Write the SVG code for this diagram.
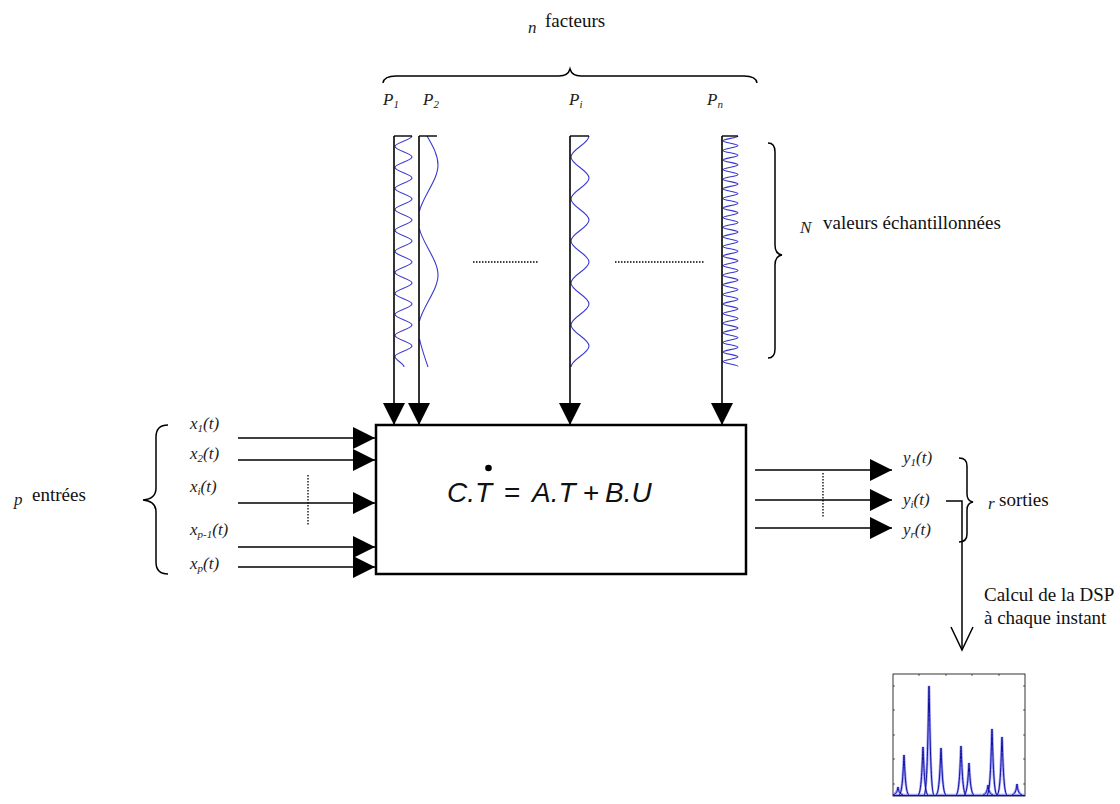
<svg xmlns="http://www.w3.org/2000/svg" width="1120" height="804" viewBox="0 0 1120 804">
<style>
.t{font-family:"Liberation Serif","Times New Roman",serif;font-size:19px;fill:#111}
.v{font-family:"Liberation Serif","Times New Roman",serif;font-style:italic;font-size:17px;fill:#222}
.eq{font-family:"Liberation Sans",Arial,sans-serif;font-style:italic;font-size:28px;fill:#111}
.eqo{font-family:"Liberation Sans",Arial,sans-serif;font-size:28px;fill:#111}
.ln{stroke:#000;stroke-width:1.6;fill:none}
.br{stroke:#000;stroke-width:1.5;fill:none}
.dot{stroke:#000;stroke-width:1.3;stroke-dasharray:1.5 1.5;fill:none}
.wave{stroke:#3a3ad0;stroke-width:1.1;fill:none}
.tick{stroke:#000;stroke-width:1.4;fill:none}
</style>
<defs>
<marker id="ah" viewBox="0 0 22 22" refX="22" refY="11" markerWidth="22" markerHeight="22" markerUnits="userSpaceOnUse" orient="auto">
<path d="M0,0 L22,11 L0,22 Z" fill="#000"/>
</marker>
</defs>
<rect width="1120" height="804" fill="#fff"/>

<g id="title-n-facteurs">
<text class="v" x="528" y="33" font-size="18">n</text>
<text class="t" x="545" y="27">facteurs</text>
<path class="br" d="M383,83 Q384,76 396,76 L559,76 Q568,76 570,69 Q572,76 581,76 L744,76 Q756,76 757,83"/>
</g>

<g id="factor-labels">
<text class="v" x="383" y="105" font-size="18">P<tspan font-size="11" dy="3">1</tspan></text>
<text class="v" x="423" y="105" font-size="18">P<tspan font-size="11" dy="3">2</tspan></text>
<text class="v" x="569" y="105" font-size="18">P<tspan font-size="11" dy="3">i</tspan></text>
<text class="v" x="707" y="105" font-size="18">P<tspan font-size="11" dy="3">n</tspan></text>
</g>

<g id="factor-P1">
<path class="wave" d="M412,136 C412,139.8 395,142.7 395,146.5 S412,153.2 412,157 S395,163.7 395,167.5 S412,174.2 412,178 S395,184.7 395,188.5 S412,195.2 412,199 S395,205.7 395,209.5 S412,216.2 412,220 S395,226.7 395,230.5 S412,237.2 412,241 S395,247.7 395,251.5 S412,258.2 412,262 S395,268.7 395,272.5 S412,279.2 412,283 S395,289.7 395,293.5 S412,300.2 412,304 S395,310.7 395,314.5 S412,321.2 412,325 S395,331.7 395,335.5 S412,342.2 412,346 S395,352.7 395,356.5 S404,363.2 404,367"/>
<path class="tick" d="M394,136 L412,136"/>
</g>
<g id="factor-P2">
<path class="wave" d="M427,136 C432.7,146 438,155 438,165 C438,180 423,196 419.5,211 M419.5,229 C423,244 438,260 438,275 C438,290 423,306 419.5,321 M419.5,339 C422,350 425,358 428,367"/>
<path class="tick" d="M419,136 L437,136"/>
</g>
<g id="factor-Pi">
<path class="wave" d="M589,136 C589,143.6 571,149.4 571,157 S589,170.4 589,178 S571,191.4 571,199 S589,212.4 589,220 S571,233.4 571,241 S589,254.4 589,262 S571,275.4 571,283 S589,296.4 589,304 S571,317.4 571,325 S589,338.4 589,346 S571,359.4 571,367"/>
<path class="tick" d="M570,136 L589,136"/>
</g>
<g id="factor-Pn">
<path class="wave" d="M738,136 C738,137.7 723,139.1 723,140.8 S738,143.9 738,145.6 S723,148.7 723,150.4 S738,153.5 738,155.2 S723,158.3 723,160 S738,163.1 738,164.8 S723,167.9 723,169.6 S738,172.7 738,174.4 S723,177.5 723,179.2 S738,182.3 738,184 S723,187.1 723,188.8 S738,191.9 738,193.6 S723,196.7 723,198.4 S738,201.5 738,203.2 S723,206.3 723,208 S738,211.1 738,212.8 S723,215.9 723,217.6 S738,220.7 738,222.4 S723,225.5 723,227.2 S738,230.3 738,232 S723,235.1 723,236.8 S738,239.9 738,241.6 S723,244.7 723,246.4 S738,249.5 738,251.2 S723,254.3 723,256 S738,259.1 738,260.8 S723,263.9 723,265.6 S738,268.7 738,270.4 S723,273.5 723,275.2 S738,278.3 738,280 S723,283.1 723,284.8 S738,287.9 738,289.6 S723,292.7 723,294.4 S738,297.5 738,299.2 S723,302.3 723,304 S738,307.1 738,308.8 S723,311.9 723,313.6 S738,316.7 738,318.4 S723,321.5 723,323.2 S738,326.3 738,328 S723,331.1 723,332.8 S738,335.9 738,337.6 S723,340.7 723,342.4 S738,345.5 738,347.2 S723,350.3 723,352 S738,355.1 738,356.8 S723,359.9 723,361.6 S738,364.7 738,366.4"/>
<path class="tick" d="M722,136 L738,136"/>
</g>

<g id="ellipsis-factors">
<path class="dot" d="M473,262 L539,262"/>
<path class="dot" d="M615,262 L705,262"/>
</g>

<g id="N-samples">
<path class="br" d="M768,143 Q775,143 775,152 L775,245 Q775,254 782,255 Q775,256 775,265 L775,349 Q775,358 768,358"/>
<text class="v" x="800" y="233" font-size="18">N</text>
<text class="t" x="823" y="229">valeurs échantillonnées</text>
</g>

<g id="system-box">
<rect x="376" y="425" width="370" height="149" fill="#fff" stroke="#000" stroke-width="2.5"/>
<text class="eq" x="447" y="502">C.T</text>
<circle cx="488.5" cy="468" r="3.3" fill="#000"/>
<text class="eqo" x="504" y="502">=</text>
<text class="eq" x="532" y="502">A.T</text>
<text class="eqo" x="583" y="502">+</text>
<text class="eq" x="605" y="502">B.U</text>
</g>

<g id="inputs">
<path class="br" d="M168,425 Q156,425 156,437 L156,488 Q156,499 143,500 Q156,501 156,512 L156,562 Q156,574 168,574"/>
<text class="v" x="14" y="505" font-size="18">p</text>
<text class="t" x="32" y="501">entrées</text>
<text class="v" x="190" y="429">x<tspan font-size="11" dy="3">1</tspan><tspan dy="-3">(t)</tspan></text>
<text class="v" x="190" y="459">x<tspan font-size="11" dy="3">2</tspan><tspan dy="-3">(t)</tspan></text>
<text class="v" x="190" y="492">x<tspan font-size="11" dy="3">i</tspan><tspan dy="-3">(t)</tspan></text>
<text class="v" x="190" y="535">x<tspan font-size="11" dy="3">p-1</tspan><tspan dy="-3">(t)</tspan></text>
<text class="v" x="190" y="569">x<tspan font-size="11" dy="3">p</tspan><tspan dy="-3">(t)</tspan></text>
<path class="dot" d="M308,475 L308,525"/>
</g>

<g id="outputs">
<text class="v" x="903" y="463">y<tspan font-size="11" dy="3">1</tspan><tspan dy="-3">(t)</tspan></text>
<text class="v" x="903" y="505">y<tspan font-size="11" dy="3">i</tspan><tspan dy="-3">(t)</tspan></text>
<text class="v" x="903" y="535">y<tspan font-size="11" dy="3">r</tspan><tspan dy="-3">(t)</tspan></text>
<path class="br" d="M959,458 Q967,458 967,466 L967,494 Q967,501 973,502 Q967,503 967,510 L967,534 Q967,542 959,542"/>
<text class="v" x="988" y="509" font-size="17">r</text>
<text class="t" x="999" y="506" font-size="18">sorties</text>
<path class="dot" d="M823,473 L823,518"/>
</g>

<g id="dsp-label">
<text class="t" x="984" y="601" font-size="17">Calcul de la DSP</text>
<text class="t" x="984" y="624" font-size="17">à chaque instant</text>
</g>

<g id="dsp-plot">
<rect x="893" y="674" width="132" height="122" fill="#fff" stroke="#000" stroke-width="0.8"/>
<path stroke="#000" stroke-width="0.6" d="M893,686 h2 M893,710 h2 M893,735 h2 M893,759 h2 M893,784 h2 M919,796 v-2 M946,796 v-2 M972,796 v-2 M999,796 v-2 M1025,686 h-2 M1025,710 h-2 M1025,735 h-2 M1025,759 h-2 M1025,784 h-2 M919,674 v2 M946,674 v2 M972,674 v2 M999,674 v2"/>
<g stroke="#7d7dff" stroke-width="2.6" fill="none" opacity="0.7">
<path d="M893,795 L1025,795"/>
<path d="M893,795 C896,794 897.4,792 898,787 C898.6,792 900,794 903,795 M899,795 C903,794 903.4,760 904,755 C904.6,760 905,794 909,795 M918,795 C922,794 922.4,752 923,747 C923.6,752 924,794 928,795 M924,795 C928,794 928.4,691 929,686 C929.6,691 930,794 934,795 M936,795 C940,794 940.4,753 941,748 C941.6,753 942,794 946,795 M956,795 C960,794 960.4,751 961,746 C961.6,751 962,794 966,795 M964,795 C968,794 968.4,768 969,763 C969.6,768 970,794 974,795 M983,795 C987,794 987.4,789 988,785 C988.6,789 989,794 993,795 M987,795 C991,794 991.4,734 992,729 C992.6,734 993,794 997,795 M997,795 C1001,794 1001.4,742 1002,737 C1002.6,742 1003,794 1007,795 M1012,795 C1016,794 1016.4,788 1017,784 C1017.6,788 1018,794 1022,795"/>
</g>
<g stroke="#10109a" stroke-width="1" fill="none">
<path d="M893,795.5 L1025,795.5"/>
<path d="M893,795 C896,794 897.4,792 898,787 C898.6,792 900,794 903,795 M899,795 C903,794 903.4,760 904,755 C904.6,760 905,794 909,795 M918,795 C922,794 922.4,752 923,747 C923.6,752 924,794 928,795 M924,795 C928,794 928.4,691 929,686 C929.6,691 930,794 934,795 M936,795 C940,794 940.4,753 941,748 C941.6,753 942,794 946,795 M956,795 C960,794 960.4,751 961,746 C961.6,751 962,794 966,795 M964,795 C968,794 968.4,768 969,763 C969.6,768 970,794 974,795 M983,795 C987,794 987.4,789 988,785 C988.6,789 989,794 993,795 M987,795 C991,794 991.4,734 992,729 C992.6,734 993,794 997,795 M997,795 C1001,794 1001.4,742 1002,737 C1002.6,742 1003,794 1007,795 M1012,795 C1016,794 1016.4,788 1017,784 C1017.6,788 1018,794 1022,795"/>
</g>
</g>

<g id="connectors">
<line class="ln" x1="394" y1="136" x2="394" y2="425" marker-end="url(#ah)"/>
<line class="ln" x1="419" y1="136" x2="419" y2="425" marker-end="url(#ah)"/>
<line class="ln" x1="570" y1="136" x2="570" y2="425" marker-end="url(#ah)"/>
<line class="ln" x1="722" y1="136" x2="722" y2="425" marker-end="url(#ah)"/>
<line class="ln" x1="238" y1="438" x2="375" y2="438" marker-end="url(#ah)"/>
<line class="ln" x1="238" y1="460" x2="375" y2="460" marker-end="url(#ah)"/>
<line class="ln" x1="238" y1="503" x2="375" y2="503" marker-end="url(#ah)"/>
<line class="ln" x1="238" y1="547" x2="375" y2="547" marker-end="url(#ah)"/>
<line class="ln" x1="238" y1="567" x2="375" y2="567" marker-end="url(#ah)"/>
<line class="ln" x1="755" y1="470" x2="892" y2="470" marker-end="url(#ah)"/>
<line class="ln" x1="755" y1="500" x2="892" y2="500" marker-end="url(#ah)"/>
<line class="ln" x1="755" y1="528" x2="892" y2="528" marker-end="url(#ah)"/>
<path class="br" d="M946,501 L962,501 L962,650"/>
<path class="br" d="M951,627 L962,650 L973,627"/>
</g>
</svg>
